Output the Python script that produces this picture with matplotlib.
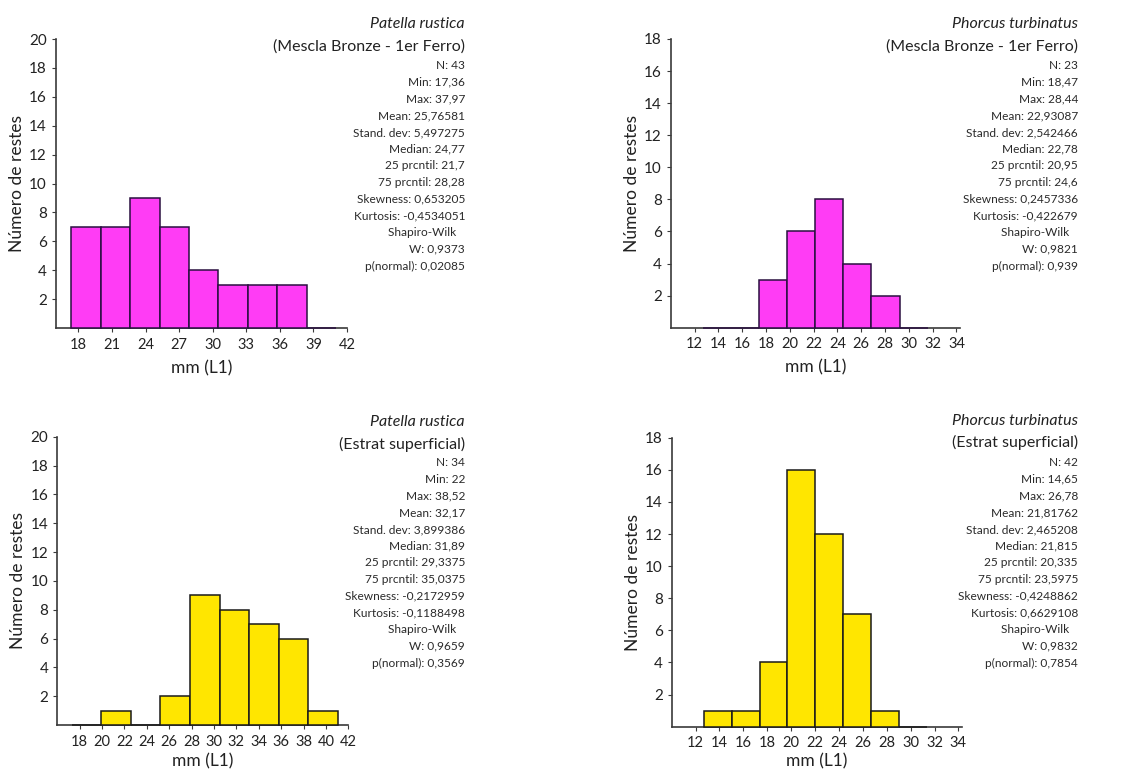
import numpy as np
import matplotlib
matplotlib.use("Agg")
import matplotlib.pyplot as plt

plt.rcParams["font.family"] = ["Lato", "DejaVu Sans"]

W, H = 1122, 774

# ---- data ----
# Patella rustica, Mescla Bronze - 1er Ferro
pr1_start, pr1_width = 17.36, 2.63
pr1_counts = [7, 7, 9, 7, 4, 3, 3, 3, 0]
pr1_stats = ["N: 43", "Min: 17,36", "Max: 37,97", "Mean: 25,76581", "Stand. dev: 5,497275",
             "Median: 24,77", "25 prcntil: 21,7", "75 prcntil: 28,28", "Skewness: 0,653205",
             "Kurtosis: -0,4534051", "Shapiro-Wilk   ", "W: 0,9373", "p(normal): 0,02085"]

# Phorcus turbinatus, Mescla Bronze - 1er Ferro
pt1_start, pt1_width = 12.7, 2.36
pt1_counts = [0, 0, 3, 6, 8, 4, 2, 0]
pt1_stats = ["N: 23", "Min: 18,47", "Max: 28,44", "Mean: 22,93087", "Stand. dev: 2,542466",
             "Median: 22,78", "25 prcntil: 20,95", "75 prcntil: 24,6", "Skewness: 0,2457336",
             "Kurtosis: -0,422679", "Shapiro-Wilk   ", "W: 0,9821", "p(normal): 0,939"]

# Patella rustica, Estrat superficial
pr2_start, pr2_width = 17.3, 2.64
pr2_counts = [0, 1, 0, 2, 9, 8, 7, 6, 1]
pr2_stats = ["N: 34", "Min: 22", "Max: 38,52", "Mean: 32,17", "Stand. dev: 3,899386",
             "Median: 31,89", "25 prcntil: 29,3375", "75 prcntil: 35,0375", "Skewness: -0,2172959",
             "Kurtosis: -0,1188498", "Shapiro-Wilk   ", "W: 0,9659", "p(normal): 0,3569"]

# Phorcus turbinatus, Estrat superficial
pt2_start, pt2_width = 12.67, 2.34
pt2_counts = [1, 1, 4, 16, 12, 7, 1, 0]
pt2_stats = ["N: 42", "Min: 14,65", "Max: 26,78", "Mean: 21,81762", "Stand. dev: 2,465208",
             "Median: 21,815", "25 prcntil: 20,335", "75 prcntil: 23,5975", "Skewness: -0,4248862",
             "Kurtosis: 0,6629108", "Shapiro-Wilk   ", "W: 0,9832", "p(normal): 0,7854"]

MAGENTA, MAG_EDGE = "#ff3cf5", "#2a1040"
YELLOW, YEL_EDGE = "#ffe600", "#1a1a1a"
AXC = "#3a3a3a"


def px_axes(fig, left, right, top, bottom):
    return fig.add_axes([left / W, 1 - bottom / H, (right - left) / W, (bottom - top) / H])


def panel(fig, box, start, width, counts, color, edge, xlim, xticks, ymax, species, period,
          stats, text_x, title_y, stats_y, xpad):
    ax = px_axes(fig, *box)
    counts = np.asarray(counts)
    edges = start + width * np.arange(len(counts))
    ax.bar(edges, counts, width=width, align="edge", color=color, edgecolor=edge, linewidth=1.1,
           clip_on=False, zorder=3)
    ax.set_xlim(*xlim)
    ax.set_ylim(0, ymax)
    ax.set_xticks(xticks)
    ax.set_yticks(np.arange(2, ymax + 1, 2))
    for s in ("top", "right"):
        ax.spines[s].set_visible(False)
    for s in ("left", "bottom"):
        ax.spines[s].set_color(AXC)
        ax.spines[s].set_linewidth(1.2)
    ax.tick_params(colors=AXC, labelcolor="#222222", length=3, width=0.8)
    ax.tick_params(axis="x", labelsize=10.5, pad=4)
    ax.tick_params(axis="y", labelsize=11)
    ax.set_xlabel("mm (L1)", fontsize=12.5, color="#222222", labelpad=xpad)
    ax.set_ylabel("Número de restes", fontsize=12.5, color="#222222", labelpad=3)

    fig.text(text_x / W, 1 - title_y[0] / H, species, style="italic", fontsize=11.5,
             ha="right", va="center", color="#222222")
    fig.text(text_x / W, 1 - title_y[1] / H, period, fontsize=11.5,
             ha="right", va="center", color="#222222")
    step = 16.7
    for i, line in enumerate(stats):
        fig.text(text_x / W, 1 - (stats_y + i * step) / H, line, fontsize=8.6,
                 ha="right", va="center", color="#2a2a2a")
    return ax


fig = plt.figure(figsize=(W / 100, H / 100), dpi=100)

panel(fig, (56, 347, 39, 328), pr1_start, pr1_width, pr1_counts, MAGENTA, MAG_EDGE,
      (16, 42), np.arange(18, 43, 3), 20, "Patella rustica", "(Mescla Bronze - 1er Ferro)",
      pr1_stats, 465, (24, 46.7), 65.7, 6)
panel(fig, (670.7, 960, 39, 327.7), pt1_start, pt1_width, pt1_counts, MAGENTA, MAG_EDGE,
      (10, 34.3), np.arange(12, 35, 2), 18, "Phorcus turbinatus", "(Mescla Bronze - 1er Ferro)",
      pt1_stats, 1078, (24, 46.7), 65.7, 6)
panel(fig, (57.3, 348.3, 436.7, 725), pr2_start, pr2_width, pr2_counts, YELLOW, YEL_EDGE,
      (16, 42), np.arange(18, 43, 2), 20, "Patella rustica", "(Estrat superficial)",
      pr2_stats, 465, (422, 444), 462.7, 3)
panel(fig, (671.7, 962, 437.7, 726.7), pt2_start, pt2_width, pt2_counts, YELLOW, YEL_EDGE,
      (10, 34.3), np.arange(12, 35, 2), 18, "Phorcus turbinatus", "(Estrat superficial)",
      pt2_stats, 1078, (420.7, 442.7), 462.7, 2)

fig.savefig("out.png", dpi=100)
